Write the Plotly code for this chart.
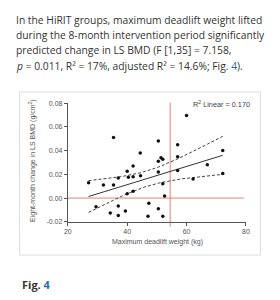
import numpy as np
import plotly.graph_objects as go

W, H = 280, 300

# ---- data ----
deadlift_kg = [27.0, 29.5, 32.0, 34.3, 35.4, 35.4, 37.0, 37.0, 37.0, 39.4,
               40.0, 40.4, 40.0, 42.0, 42.0, 42.0, 44.4, 44.5, 47.3, 47.0,
               50.5, 50.5, 50.5, 50.5, 51.4, 52.0, 52.0, 52.0, 52.6, 57.0,
               57.0, 57.0, 60.0, 62.2, 67.0, 72.2, 72.2]
bmd_change = [0.0129, -0.0074, 0.011, -0.0125, 0.011, 0.051, 0.017, -0.0066, -0.0146, -0.011,
              0.0227, 0.0175, 0.0036, 0.027, 0.018, 0.0057, 0.038, 0.0189, -0.0043, -0.0153,
              0.048, 0.031, 0.022, -0.009, 0.034, 0.0328, 0.012, -0.0153, 0.0017, 0.045,
              0.0348, 0.0233, 0.0695, 0.016, 0.028, 0.040, 0.0208]
ref_x = 54.5          # vertical red reference line
ref_y = 0.0           # horizontal red reference line
x_ticks = [20, 40, 60, 80]
y_ticks = [-0.02, 0.00, 0.02, 0.04, 0.06, 0.08]
r2_label = "R<sup>2</sup> Linear = 0.170"
paragraph = [
    "In the HiRIT groups, maximum deadlift weight lifted",
    "during the 8-month intervention period significantly",
    "predicted change in LS BMD (F [1,35] = 7.158,",
    "<i>p</i> = 0.011, R² = 17%, adjusted R² = 14.6%; Fig. <span style='color:#1f6fb5'>4</span>).",
]
fig_label = "<b>Fig. <span style='color:#1f6fb5'>4</span></b>"
x_title = "Maximum deadlift weight (kg)"
y_title = "Eight-month change in LS BMD (g/cm<sup>2</sup>)"
T_975_35 = 2.0301  # Student t quantile, 35 df

# ---- linear fit with 95% mean confidence band ----
x = np.array(deadlift_kg)
y = np.array(bmd_change)
n = len(x)
b1, b0 = np.polyfit(x, y, 1)
res = y - (b0 + b1 * x)
s = np.sqrt(np.sum(res ** 2) / (n - 2))
sxx = np.sum((x - x.mean()) ** 2)
xf = np.linspace(x.min(), x.max(), 80)
yf = b0 + b1 * xf
half = T_975_35 * s * np.sqrt(1 / n + (xf - x.mean()) ** 2 / sxx)

def px(v):
    return v / W

def py(v):
    return 1 - v / H

fig = go.Figure()
fig.add_trace(go.Scatter(x=xf, y=yf + half, mode="lines",
                         line=dict(color="#444", width=1, dash="3px,2px"), hoverinfo="skip"))
fig.add_trace(go.Scatter(x=xf, y=yf - half, mode="lines",
                         line=dict(color="#444", width=1, dash="3px,2px"), hoverinfo="skip"))
fig.add_trace(go.Scatter(x=xf, y=yf, mode="lines",
                         line=dict(color="#333", width=1), hoverinfo="skip"))
fig.add_trace(go.Scatter(x=deadlift_kg, y=bmd_change, mode="markers",
                         marker=dict(color="#111", size=3.5), cliponaxis=False))

red = "#ee7f72"
fig.add_shape(type="line", xref="x", yref="y", x0=x_ticks[0], x1=79.3, y0=ref_y, y1=ref_y,
              line=dict(color=red, width=1), layer="below")
fig.add_shape(type="line", xref="x", yref="paper", x0=ref_x, x1=ref_x,
              y0=py(228), y1=py(101), line=dict(color=red, width=1), layer="below")

# figure frame
fig.add_shape(type="rect", xref="paper", yref="paper", x0=px(16), x1=px(264),
              y0=py(257), y1=py(90), line=dict(color="#dcdcdc", width=1))

annots = []
for i, line in enumerate(paragraph):
    annots.append(dict(text=line, xref="paper", yref="paper", x=px(10.5), y=py(16 + 15.8 * i),
                       xanchor="left", yanchor="middle", showarrow=False,
                       font=dict(family="Open Sans", size=10.3, color="#333")))
annots.append(dict(text=fig_label, xref="paper", yref="paper", x=px(16), y=py(287),
                   xanchor="left", yanchor="middle", showarrow=False,
                   font=dict(family="Open Sans", size=11, color="#333")))
annots.append(dict(text=r2_label, xref="paper", yref="paper", x=px(255), y=py(102),
                   xanchor="right", yanchor="middle", showarrow=False,
                   font=dict(family="Liberation Sans", size=7.3, color="#444")))
annots.append(dict(text=x_title, xref="paper", yref="paper", x=px(157.5), y=py(244),
                   xanchor="center", yanchor="middle", showarrow=False,
                   font=dict(family="Liberation Sans", size=7, color="#555")))
annots.append(dict(text=y_title, xref="paper", yref="paper", x=px(29.5), y=py(160),
                   xanchor="center", yanchor="middle", showarrow=False, textangle=-90,
                   font=dict(family="Liberation Sans", size=7, color="#555")))

axis_common = dict(showgrid=False, zeroline=False, showline=True, linecolor="#555", linewidth=1,
                   ticks="outside", ticklen=3, tickwidth=1, tickcolor="#555",
                   tickfont=dict(family="Liberation Sans", size=7, color="#555"))

fig.update_layout(
    width=W, height=H, margin=dict(l=0, r=0, t=0, b=0),
    paper_bgcolor="white", plot_bgcolor="white", showlegend=False,
    annotations=annots,
    xaxis=dict(domain=[px(65.7), px(249)], range=[20, 80], tickvals=x_ticks,
               ticktext=[str(v) for v in x_ticks], **axis_common),
    yaxis=dict(domain=[py(223), py(101.5)], range=[-0.02, 0.08], tickvals=y_ticks,
               ticktext=[f"{v:.2f}" for v in y_ticks], **axis_common),
)

fig.write_html("out.html")
